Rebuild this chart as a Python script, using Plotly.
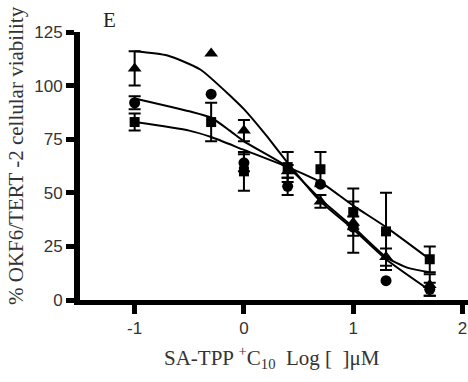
import plotly.graph_objects as go

# Data
log_conc = [-1, -0.3, 0, 0.4, 0.7, 1.0, 1.3, 1.7]

tri_vals = [108, 115, 79, 60, 46, 36, 20, 7]
tri_err = [8, 0, 5, 3, 3, 3, 4, 5]
circ_vals = [92, 96, 64, 53, 54, 34, 9, 5]
circ_err = [3, 0, 4, 4, 0, 12, 0, 3]
sq_vals = [83, 83, 60, 62, 61, 41, 32, 19]
sq_err = [4, 9, 9, 7, 8, 11, 18, 6]

# Fitted curves
tri_fit_x = [-1, -0.7, -0.4, -0.1, 0, 0.2, 0.4, 0.7, 1.0, 1.3, 1.7]
tri_fit_y = [116, 114, 107.5, 94, 89, 77, 64, 46, 33, 19, 4.5]
circ_fit_x = [-1, -0.5, -0.3, -0.13, 0, 0.4, 0.7, 1.0, 1.3, 1.5, 1.7]
circ_fit_y = [94, 88, 85, 79, 74, 62, 47, 34, 20, 15, 13]
sq_fit_x = [-1, -0.5, -0.3, 0, 0.4, 0.7, 1.0, 1.3, 1.7]
sq_fit_y = [83, 79, 76, 70, 62, 55, 44, 34, 19]

x_ticks = [-1, 0, 1, 2]
y_ticks = [0, 25, 50, 75, 100, 125]

W, H = 468, 382
L, R, T, B = 80, 0, 32, 82
PW, PH = W - L - R, H - T - B


def px(xp):
    return (xp - L) / PW


def py(yp):
    return 1 - (yp - T) / PH


fig = go.Figure()

for fx, fy in [(tri_fit_x, tri_fit_y), (circ_fit_x, circ_fit_y), (sq_fit_x, sq_fit_y)]:
    fig.add_trace(go.Scatter(x=fx, y=fy, mode="lines",
                             line=dict(color="black", width=2, shape="spline", smoothing=0.6),
                             showlegend=False, hoverinfo="skip", cliponaxis=False))

# error bars (only where an error is visible)
for vals, err in [(sq_vals, sq_err), (circ_vals, circ_err), (tri_vals, tri_err)]:
    ex = [x for x, e in zip(log_conc, err) if e > 0]
    ey = [v for v, e in zip(vals, err) if e > 0]
    ee = [e for e in err if e > 0]
    fig.add_trace(go.Scatter(
        x=ex, y=ey, mode="markers", marker=dict(size=1, color="rgba(0,0,0,0)"),
        error_y=dict(type="data", array=ee, visible=True, color="black", thickness=2, width=6),
        showlegend=False, hoverinfo="skip", cliponaxis=False))

for vals, sym, size in [(sq_vals, "square", 10), (circ_vals, "circle", 11), (tri_vals, "triangle-up", 12)]:
    fig.add_trace(go.Scatter(
        x=log_conc, y=vals, mode="markers",
        marker=dict(symbol=sym, size=size, color="black", line=dict(width=0)),
        showlegend=False, cliponaxis=False))

serif = "Liberation Serif, Times New Roman, serif"
fig.update_layout(
    width=W, height=H,
    margin=dict(l=L, r=R, t=T, b=B),
    paper_bgcolor="white", plot_bgcolor="white",
    xaxis=dict(range=[-1.5, 2.05], tickvals=x_ticks, ticktext=[str(v) for v in x_ticks],
               showgrid=False, zeroline=False, showline=True, linecolor="black", linewidth=5,
               ticks="outside", ticklen=9, tickwidth=5, tickcolor="black",
               tickfont=dict(family="Liberation Sans, Arial", size=17, color="#333")),
    yaxis=dict(range=[0, 125], tickvals=y_ticks, showgrid=False, zeroline=False,
               showline=True, linecolor="black", linewidth=6,
               ticks="outside", ticklen=8, tickwidth=5, tickcolor="black",
               tickfont=dict(family="Liberation Sans, Arial", size=17, color="#333")),
    annotations=[
        dict(text="E", x=px(109), y=py(20), xref="paper", yref="paper", showarrow=False,
             xanchor="center", yanchor="middle",
             font=dict(family=serif, size=21, color="#222")),
        dict(text="% OKF6/TERT -2 cellular viability", x=px(16), y=py(156), xref="paper", yref="paper",
             textangle=-90, showarrow=False, xanchor="center", yanchor="middle",
             font=dict(family=serif, size=21, color="#333")),
        dict(text="SA-TPP <sup>+</sup>C<sub>10</sub>  Log [  ]μM", x=px(272), y=py(357),
             xref="paper", yref="paper", showarrow=False, xanchor="center", yanchor="middle",
             font=dict(family=serif, size=21, color="#333")),
    ],
)

fig.write_html("out.html")
